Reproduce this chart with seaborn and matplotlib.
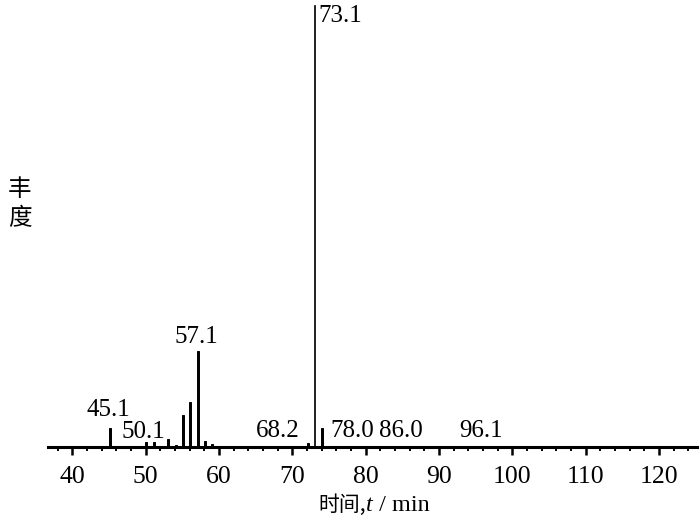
import matplotlib
matplotlib.use("Agg")
import matplotlib.pyplot as plt
import seaborn as sns
import pandas as pd
from matplotlib.ticker import MultipleLocator
from matplotlib.offsetbox import TextArea, HPacker, AnchoredOffsetbox

# ---- data (m/z peaks, relative abundance %) ----
peak_mz = [45.1, 50.1, 51.1, 53.1, 54.1, 55.1, 56.1, 57.1, 58.1, 59.1,
           68.2, 71.1, 72.1, 74.1, 78.0, 86.0, 96.1]
peak_abund = [4.3, 1.1, 1.1, 1.8, 0.5, 7.2, 10.2, 21.7, 1.4, 0.7,
              0.2, 0.3, 0.9, 4.3, 0.2, 0.15, 0.15]
base_mz = [73.1]
base_abund = [100.0]

label_text = ["45.1", "50.1", "57.1", "68.2", "73.1", "78.0", "86.0", "96.1"]
label_mz = [45.1, 50.1, 57.1, 68.2, 73.1, 78.0, 86.0, 96.1]
label_abund = [4.3, 1.1, 21.7, 0.2, 100.0, 0.2, 0.15, 0.15]

xticks = [40, 50, 60, 70, 80, 90, 100, 110, 120]

sns.set_theme(style="ticks")
plt.rcParams["font.family"] = ["Liberation Serif", "Noto Sans CJK SC"]
plt.rcParams["axes.unicode_minus"] = False

fig = plt.figure(figsize=(7.0, 5.25), dpi=100)
W, H = 700, 525
ax = fig.add_axes([48 / W, 1 - 447 / H, (697 - 48) / W, (447 - 5) / H])

df_peaks = pd.DataFrame({"mz": peak_mz, "abund": peak_abund})
df_base = pd.DataFrame({"mz": base_mz, "abund": base_abund})

sns.barplot(data=df_peaks, x="mz", y="abund", native_scale=True, width=0.28,
            color="black", saturation=1, edgecolor="black", linewidth=0.7, ax=ax)
sns.barplot(data=df_base, x="mz", y="abund", native_scale=True, width=0.12,
            color="black", saturation=1, edgecolor="black", linewidth=0.5, ax=ax)

ax.set_xlim(36.7, 125.2)
ax.set_ylim(0, 100)
ax.set_xlabel("")
ax.set_ylabel("")
ax.set_yticks([])

for s in ["left", "top", "right"]:
    ax.spines[s].set_visible(False)
ax.spines["bottom"].set_linewidth(2.2)
ax.spines["bottom"].set_color("black")

ax.xaxis.set_major_locator(MultipleLocator(10))
ax.xaxis.set_minor_locator(MultipleLocator(2))
ax.set_xticks(xticks)
ax.set_xticklabels([str(t) for t in xticks])
ax.tick_params(axis="x", which="major", direction="out", length=5.5, width=1.8,
               color="black", labelsize=18.5, pad=8, labelcolor="black")
ax.tick_params(axis="x", which="minor", direction="out", length=3, width=1.4,
               color="black")

# per-label pixel offsets (dx, dy) relative to peak top
offsets = {
    "45.1": (-1, 12, "center", "baseline"),
    "50.1": (-3, 4, "center", "baseline"),
    "57.1": (-1, 8, "center", "baseline"),
    "68.2": (-1.5, 9, "center", "baseline"),
    "73.1": (3, 0, "left", "top"),
    "78.0": (1.5, 9, "center", "baseline"),
    "86.0": (-9, 9, "center", "baseline"),
    "96.1": (-3, 9, "center", "baseline"),
}
for txt, xv, yv in zip(label_text, label_mz, label_abund):
    dx, dy, ha, va = offsets[txt]
    ax.annotate(txt, xy=(xv, yv), xytext=(dx, dy), textcoords="offset pixels",
                ha=ha, va=va, fontsize=18, color="black", annotation_clip=False)

# y label (vertical stacked characters)
fig.text(20 / W, 1 - 204 / H, "丰\n度", ha="center", va="center",
         fontsize=17, linespacing=1.35, color="black",
         family=["Noto Sans CJK SC", "DejaVu Sans"])

# x label with italic t
parts = HPacker(children=[
    TextArea("时间,", textprops=dict(fontsize=15, color="black",
                                    family=["Noto Sans CJK SC", "DejaVu Sans"])),
    TextArea("t", textprops=dict(fontsize=17.5, color="black", style="italic",
                                 family=["Liberation Serif"])),
    TextArea(" / min", textprops=dict(fontsize=17.5, color="black",
                                      family=["Liberation Serif"])),
], align="baseline", pad=0, sep=0)
anchored = AnchoredOffsetbox(loc="center", child=parts, pad=0, frameon=False,
                             bbox_to_anchor=(374 / W, 1 - 505 / H),
                             bbox_transform=fig.transFigure, borderpad=0)
fig.add_artist(anchored)

fig.savefig("out.png", dpi=100)
